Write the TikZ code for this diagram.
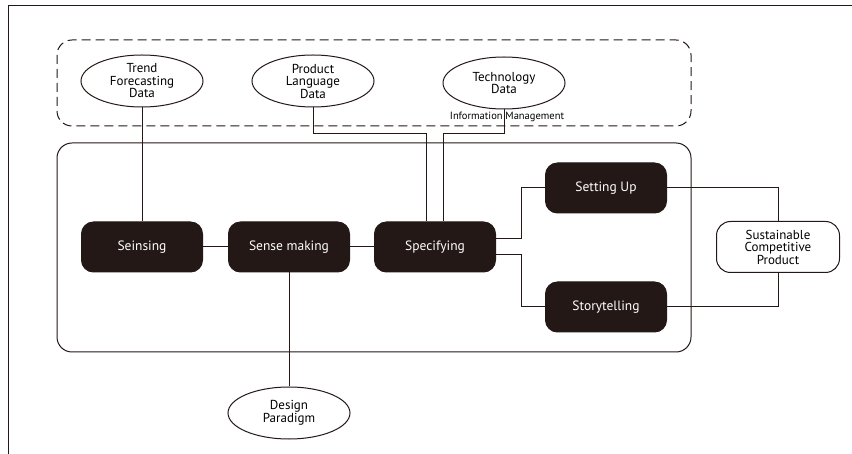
\documentclass[tikz,border=0pt]{standalone}
\usepackage{fontspec}
\setmainfont{PT Sans}
\usetikzlibrary{shapes.geometric}
\definecolor{boxfill}{HTML}{231815}
\definecolor{linecol}{HTML}{231815}
\begin{document}
\begin{tikzpicture}[x=1pt,y=-1pt, line width=1pt, draw=linecol,
  proc/.style={fill=boxfill, draw=boxfill, rounded corners=12pt, minimum width=121pt, minimum height=50pt, text=white, font=\fontsize{13.5}{14}\selectfont, inner sep=0pt},
  data/.style={ellipse, draw, fill=white, minimum width=122pt, minimum height=52pt, inner sep=0pt, align=center, font=\fontsize{13}{12.5}\selectfont},
  result/.style={draw, fill=white, rounded corners=14pt, minimum width=123pt, minimum height=51pt, inner sep=0pt, align=center, font=\fontsize{13}{12.5}\selectfont},
  conn/.style={draw, line width=1pt}
]
\useasboundingbox (0,0) rectangle (852,454);
% outer frame (top and left edges)
\draw[line width=0.9pt] (852,5) -- (8,5) -- (8,454);
% containers
\draw[dashed, dash pattern=on 9pt off 5pt, rounded corners=15pt] (57,40) rectangle (691,126);
\draw[rounded corners=15pt] (57,143) rectangle (691,352);
% nodes
\node[data] (trend) at (142,81) {Trend\\Forecasting\\Data};
\node[data] (prod) at (313,81) {Product\\Language\\Data};
\node[data] (tech) at (504,83) {Technology\\Data};
\node[font=\fontsize{10.5}{10}\selectfont, inner sep=0pt] (im) at (507,117) {Information Management};
\node[proc] (sens) at (142,247) {Seinsing};
\node[proc] (make) at (289,247) {Sense making};
\node[proc] (spec) at (435,247) {Specifying};
\node[proc] (setup) at (606,188) {Setting Up};
\node[proc] (story) at (606,307) {Storytelling};
\node[result] (prod2) at (778,247) {Sustainable\\Competitive\\Product};
\node[data] (para) at (289,413) {Design\\Paradigm};
% connectors
\coordinate (pj) at (426,134);
\coordinate (tj) at (443,134);
\coordinate (sj) at (521,188);
\coordinate (stj) at (521,307);
\coordinate (rj) at (778,188);
\coordinate (rsj) at (778,307);
\draw[conn] (trend.south) -- (sens.north);
\draw[conn] (sens.east) -- (make.west);
\draw[conn] (make.east) -- (spec.west);
\draw[conn] (make.south) -- (para.north);
\draw[conn] (prod.south) |- (pj) -- (pj |- spec.north);
\draw[conn] (tech.south) |- (tj) -- (tj |- spec.north);
\draw[conn] ([yshift=8pt]spec.east) -| (sj) -- (setup.west);
\draw[conn] ([yshift=-8pt]spec.east) -| (stj) -- (story.west);
\draw[conn] (setup.east) -- (rj) -- (prod2.north);
\draw[conn] (story.east) -- (rsj) -- (prod2.south);
\end{tikzpicture}
\end{document}
